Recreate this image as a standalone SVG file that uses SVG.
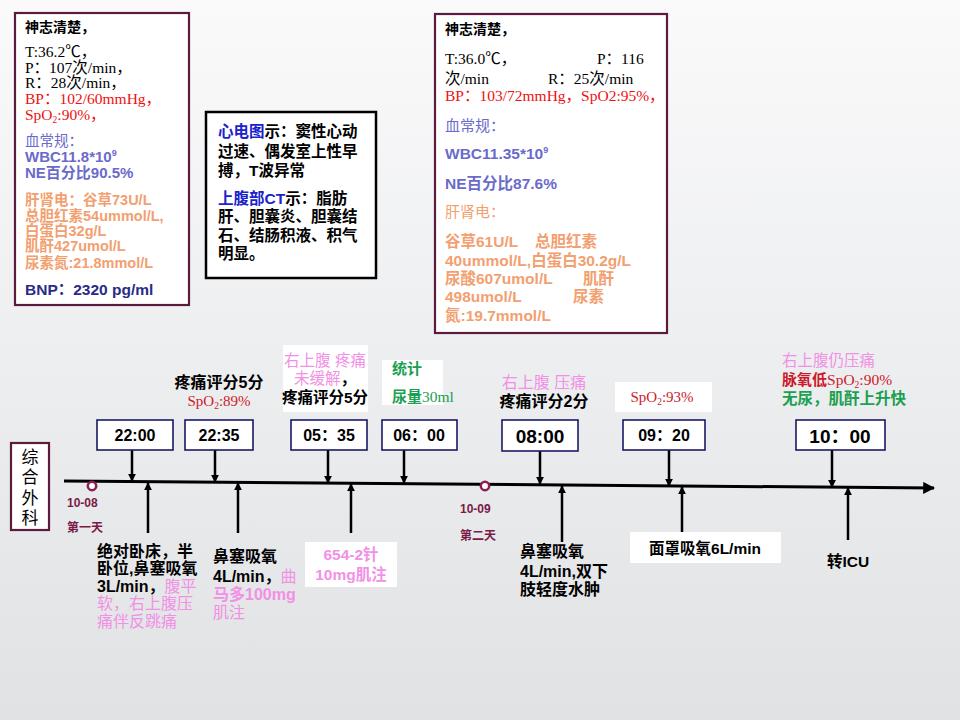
<svg xmlns="http://www.w3.org/2000/svg" width="960" height="720" viewBox="0 0 960 720">
<defs>
<linearGradient id="bg" x1="0" y1="0" x2="0" y2="1">
<stop offset="0" stop-color="#fafafb"/>
<stop offset="1" stop-color="#e0e2e4"/>
</linearGradient>
<marker id="ah" viewBox="0 0 10 10" refX="9" refY="5" markerWidth="3.2" markerHeight="3.2" orient="auto" markerUnits="strokeWidth">
<path d="M0,0 L10,5 L0,10 z" fill="#000"/>
</marker>
<marker id="ahm" viewBox="0 0 10 10" refX="9" refY="5" markerWidth="4" markerHeight="4" orient="auto" markerUnits="strokeWidth">
<path d="M0,0 L10,5 L0,10 z" fill="#000"/>
</marker>
</defs>
<style>
.s{font-family:"Liberation Sans","Noto Sans CJK SC",sans-serif}
.r{font-family:"Liberation Serif","Noto Sans CJK SC",serif}
.b{font-weight:bold}
.k{fill:#000}
.red{fill:#ee1111}
.dred{fill:#cc1a2a}
.blu{fill:#6a6acc}
.ora{fill:#f2a070}
.pink{fill:#f290e6}
.grn{fill:#1aa050}
.nav{fill:#2a2a88}
.ecg{fill:#1a22cc}
.mar{fill:#7a1a48}
.tb{fill:#fff;stroke:#1a1a66;stroke-width:1.6}
.tt{font-family:"Liberation Sans","Noto Sans CJK SC",sans-serif;font-weight:bold;fill:#000;text-anchor:middle}
.wr{fill:#fff}
.ar{stroke:#000;stroke-width:2.5;fill:none}
</style>
<rect width="960" height="720" fill="url(#bg)"/>

<g id="box-left">
<rect x="15" y="13" width="174" height="292" fill="#fff" stroke="#5c1a3c" stroke-width="2.2"/>
<text x="25" y="32" class="s b k" font-size="14">神志清楚，</text>
<text x="25" y="57" class="r k" font-size="15.5">T:36.2℃，</text>
<text x="25" y="73" class="r k" font-size="15.5">P：107次/min，</text>
<text x="25" y="88" class="r k" font-size="15.5">R：28次/min，</text>
<text x="25" y="104" class="r red" font-size="15.5">BP：102/60mmHg，</text>
<text x="25" y="120" class="r red" font-size="15.5">SpO<tspan font-size="9.5" dy="3">2</tspan><tspan dy="-3">:90%，</tspan></text>
<text x="25" y="146" class="s blu" font-size="14.5">血常规：</text>
<text x="25" y="162" class="s b blu" font-size="15">WBC11.8*10<tspan font-size="9" dy="-6">9</tspan></text>
<text x="25" y="178" class="s b blu" font-size="15">NE百分比90.5%</text>
<text x="25" y="205" class="s b ora" font-size="14.5">肝肾电：谷草73U/L</text>
<text x="25" y="221" class="s b ora" font-size="14.5">总胆红素54ummol/L,</text>
<text x="25" y="236" class="s b ora" font-size="14.5">白蛋白32g/L</text>
<text x="25" y="251" class="s b ora" font-size="14.5">肌酐427umol/L</text>
<text x="25" y="268" class="s b ora" font-size="14.5">尿素氮:21.8mmol/L</text>
<text x="25" y="295" class="s b nav" font-size="15.5">BNP：2320 pg/ml</text>
</g>

<g id="box-mid">
<rect x="206" y="112" width="170" height="166" fill="#fff" stroke="#000" stroke-width="2.5"/>
<text x="218" y="137" class="s b k" font-size="15.5"><tspan class="ecg">心电图</tspan>示：窦性心动</text>
<text x="218" y="157" class="s b k" font-size="15.5">过速、偶发室上性早</text>
<text x="218" y="176" class="s b k" font-size="15.5">搏，T波异常</text>
<text x="218" y="204" class="s b k" font-size="15.5"><tspan class="ecg">上腹部CT</tspan>示：脂肪</text>
<text x="218" y="222" class="s b k" font-size="15.5">肝、胆囊炎、胆囊结</text>
<text x="218" y="241" class="s b k" font-size="15.5">石、结肠积液、积气</text>
<text x="218" y="259" class="s b k" font-size="15.5">明显。</text>
</g>

<g id="box-right">
<rect x="435" y="14" width="232" height="319" fill="#fff" stroke="#5c1a3c" stroke-width="2.2"/>
<text x="445" y="34" class="s b k" font-size="14">神志清楚，</text>
<text x="445" y="64" class="r k" font-size="15.5">T:36.0℃，<tspan x="597">P：116</tspan></text>
<text x="445" y="84" class="r k" font-size="15.5">次/min<tspan x="548">R：25次/min</tspan></text>
<text x="445" y="101" class="r red" font-size="15.5">BP：103/72mmHg，SpO2:95%，</text>
<text x="445" y="131" class="s blu" font-size="15">血常规：</text>
<text x="445" y="159" class="s b blu" font-size="15.5">WBC11.35*10<tspan font-size="9" dy="-6">9</tspan></text>
<text x="445" y="189" class="s b blu" font-size="15.5">NE百分比87.6%</text>
<text x="445" y="217" class="s ora" font-size="15">肝肾电：</text>
<text x="445" y="247" class="s b ora" font-size="15.5">谷草61U/L<tspan x="535">总胆红素</tspan></text>
<text x="445" y="266" class="s b ora" font-size="15.5">40ummol/L,白蛋白30.2g/L</text>
<text x="445" y="284" class="s b ora" font-size="15.5">尿酸607umol/L<tspan x="583">肌酐</tspan></text>
<text x="445" y="302" class="s b ora" font-size="15.5">498umol/L<tspan x="573">尿素</tspan></text>
<text x="445" y="321" class="s b ora" font-size="15.5">氮:19.7mmol/L</text>
</g>

<g id="dept">
<rect x="11" y="443" width="38" height="87" fill="#fff" stroke="#5c1a3c" stroke-width="2.2"/>
<text x="30" y="463" class="s k" font-size="17" text-anchor="middle">综</text>
<text x="30" y="483" class="s k" font-size="17" text-anchor="middle">合</text>
<text x="30" y="504" class="s k" font-size="17" text-anchor="middle">外</text>
<text x="30" y="524" class="s k" font-size="17" text-anchor="middle">科</text>
</g>

<g id="connectors">
<line x1="64" y1="481" x2="934" y2="488" stroke="#000" stroke-width="3" marker-end="url(#ahm)"/>
<line x1="132" y1="450" x2="132" y2="481" class="ar" marker-end="url(#ah)"/>
<line x1="215" y1="450" x2="215" y2="482" class="ar" marker-end="url(#ah)"/>
<line x1="328" y1="450" x2="328" y2="483" class="ar" marker-end="url(#ah)"/>
<line x1="404" y1="450" x2="404" y2="483" class="ar" marker-end="url(#ah)"/>
<line x1="540" y1="451" x2="540" y2="484" class="ar" marker-end="url(#ah)"/>
<line x1="669" y1="450" x2="669" y2="486" class="ar" marker-end="url(#ah)"/>
<line x1="832" y1="450" x2="832" y2="487" class="ar" marker-end="url(#ah)"/>
<line x1="148" y1="533" x2="148" y2="483" class="ar" marker-end="url(#ah)"/>
<line x1="238" y1="533" x2="238" y2="483" class="ar" marker-end="url(#ah)"/>
<line x1="351" y1="533" x2="351" y2="484" class="ar" marker-end="url(#ah)"/>
<line x1="562" y1="542" x2="562" y2="486" class="ar" marker-end="url(#ah)"/>
<line x1="682" y1="532" x2="682" y2="487" class="ar" marker-end="url(#ah)"/>
<line x1="848" y1="540" x2="848" y2="488" class="ar" marker-end="url(#ah)"/>
</g>

<g id="day1">
<circle cx="92" cy="486" r="4.2" fill="#fff" stroke="#8a2050" stroke-width="2.5"/>
<text x="67" y="507" class="s b mar" font-size="12">10-08</text>
<text x="67" y="532" class="s b mar" font-size="12">第一天</text>
</g>
<g id="day2">
<circle cx="485" cy="486" r="4.2" fill="#fff" stroke="#8a2050" stroke-width="2.5"/>
<text x="460" y="513" class="s b mar" font-size="12">10-09</text>
<text x="460" y="540" class="s b mar" font-size="12">第二天</text>
</g>

<g id="t2200">
<rect x="97" y="420" width="76" height="30" class="tb"/>
<text x="135" y="441" class="tt" font-size="16">22:00</text>
</g>
<g id="t2235">
<rect x="185" y="420" width="68" height="30" class="tb"/>
<text x="219" y="441" class="tt" font-size="16">22:35</text>
<text x="219" y="388" class="s b k" font-size="16" text-anchor="middle">疼痛评分5分</text>
<text x="219" y="406" class="r dred" font-size="15" text-anchor="middle">SpO<tspan font-size="9.5" dy="3">2</tspan><tspan dy="-3">:89%</tspan></text>
</g>
<g id="t0535">
<rect x="291" y="420" width="76" height="30" class="tb"/>
<text x="329" y="441" class="tt" font-size="16">05：35</text>
<rect x="283" y="345" width="85" height="67" class="wr"/>
<text x="325" y="366" class="s pink" font-size="15.5" text-anchor="middle">右上腹 疼痛</text>
<text x="325" y="384" class="s pink" font-size="15.5" text-anchor="middle">未缓解<tspan class="k b">，</tspan></text>
<text x="325" y="403" class="s b k" font-size="15.5" text-anchor="middle">疼痛评分5分</text>
</g>
<g id="t0600">
<rect x="382" y="420" width="75" height="30" class="tb"/>
<text x="419" y="441" class="tt" font-size="16">06：00</text>
<rect x="382" y="360" width="61" height="45" class="wr"/>
<text x="392" y="374" class="s b grn" font-size="15">统计</text>
<text x="392" y="402" class="s b grn" font-size="15">尿量<tspan class="r" font-weight="normal" font-size="15.5">30ml</tspan></text>
</g>
<g id="t0800">
<rect x="502" y="420" width="76" height="31" class="tb"/>
<text x="540" y="443" class="tt" font-size="19">08:00</text>
<text x="544" y="388" class="s pink" font-size="16" text-anchor="middle">右上腹 压痛</text>
<text x="544" y="407" class="s b k" font-size="16" text-anchor="middle">疼痛评分2分</text>
</g>
<g id="t0920">
<rect x="623" y="420" width="82" height="30" class="tb"/>
<text x="664" y="441" class="tt" font-size="16">09：20</text>
<rect x="615" y="382" width="97" height="30" class="wr"/>
<text x="662" y="402" class="r dred" font-size="15" text-anchor="middle">SpO<tspan font-size="9.5" dy="3">2</tspan><tspan dy="-3">:93%</tspan></text>
</g>
<g id="t1000">
<rect x="796" y="420" width="89" height="30" class="tb"/>
<text x="840" y="443" class="tt" font-size="19">10：00</text>
<text x="782" y="366" class="s pink" font-size="15.5">右上腹仍压痛</text>
<text x="782" y="385" class="s b dred" font-size="15">脉氧低<tspan class="r" font-weight="normal" font-size="15.5">SpO<tspan font-size="9.5" dy="3">2</tspan><tspan dy="-3">:90%</tspan></tspan></text>
<text x="782" y="404" class="s b grn" font-size="15.5">无尿，肌酐上升快</text>
</g>

<g id="n2200">
<text x="97" y="557" class="s b k" font-size="16">绝对卧床，半</text>
<text x="97" y="574" class="s b k" font-size="16">卧位,鼻塞吸氧</text>
<text x="97" y="592" class="s b k" font-size="16">3L/min，<tspan class="pink" font-weight="normal">腹平</tspan></text>
<text x="97" y="609" class="s pink" font-size="16">软，右上腹压</text>
<text x="97" y="627" class="s pink" font-size="16">痛伴反跳痛</text>
</g>
<g id="n2235">
<text x="213" y="562" class="s b k" font-size="16">鼻塞吸氧</text>
<text x="213" y="582" class="s b k" font-size="16">4L/min，<tspan class="pink" font-weight="normal">曲</tspan></text>
<text x="213" y="600" class="s b pink" font-size="16">马多100mg</text>
<text x="213" y="618" class="s pink" font-size="16">肌注</text>
</g>
<g id="n0535">
<rect x="305" y="542" width="92" height="45" class="wr"/>
<text x="351" y="560" class="s b pink" font-size="15.5" text-anchor="middle">654-2针</text>
<text x="351" y="580" class="s b pink" font-size="15.5" text-anchor="middle">10mg肌注</text>
</g>
<g id="n0800">
<text x="520" y="557" class="s b k" font-size="16">鼻塞吸氧</text>
<text x="520" y="577" class="s b k" font-size="16">4L/min,双下</text>
<text x="520" y="595" class="s b k" font-size="16">肢轻度水肿</text>
</g>
<g id="n0920">
<rect x="630" y="532" width="151" height="31" class="wr"/>
<text x="705" y="554" class="s b k" font-size="15.5" text-anchor="middle">面罩吸氧6L/min</text>
</g>
<g id="n1000">
<text x="848" y="567" class="s b k" font-size="15.5" text-anchor="middle">转ICU</text>
</g>
</svg>
